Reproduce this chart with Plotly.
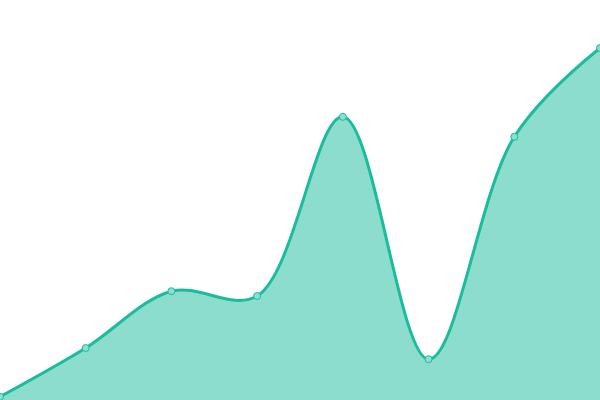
import plotly.graph_objects as go

categories = [0, 1, 2, 3, 4, 5, 6, 7]
values = [0.8, 13, 27.2, 26, 70.8, 10.2, 65.8, 88]

fig = go.Figure()
fig.add_trace(go.Scatter(
    x=categories, y=values,
    mode="lines+markers",
    line=dict(shape="spline", color="#1abc9c", width=3),
    fill="tozeroy",
    fillcolor="rgba(26,188,156,0.5)",
    marker=dict(size=7, color="#8ae0cf", line=dict(color="#1abc9c", width=1)),
    hoverinfo="skip",
    cliponaxis=False,
))
fig.update_layout(
    width=600, height=400,
    margin=dict(l=0, r=0, t=0, b=0),
    paper_bgcolor="white", plot_bgcolor="white",
    showlegend=False,
    xaxis=dict(visible=False, range=[0, 7]),
    yaxis=dict(visible=False, range=[0, 100]),
)
fig.write_html(
    "out.html",
    config={"displayModeBar": False},
    post_script="document.body.style.margin='0';document.body.style.overflow='hidden';",
)
